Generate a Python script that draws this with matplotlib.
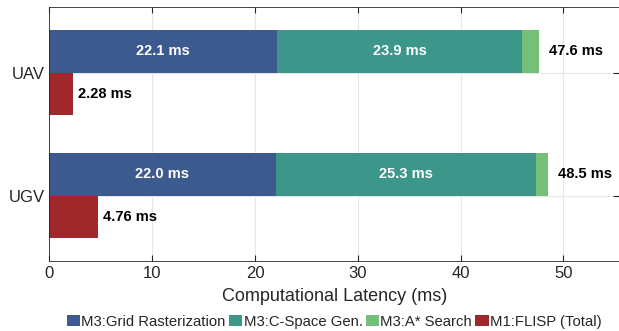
import numpy as np
import matplotlib
matplotlib.use("Agg")
from matplotlib import pyplot as plt

# data
platforms = ["UAV", "UGV"]
grid_raster = [22.1, 22.0]
cspace_gen = [23.9, 25.3]
astar = [1.6, 1.2]
m3_total = [47.6, 48.5]
flisp = [2.28, 4.76]

labels = ["M3:Grid Rasterization", "M3:C-Space Gen.", "M3:A* Search", "M1:FLISP (Total)"]
colors = ["#3d5a8f", "#3c968a", "#76bf78", "#a0282b"]

plt.rcParams['font.family'] = ['Liberation Sans', 'DejaVu Sans']

fig = plt.figure(figsize=(6.19, 3.31), dpi=100)
ax = fig.add_axes([49.3 / 619, 70 / 331, (619 - 49.3) / 619, 253.7 / 331])

y = np.arange(1, len(platforms) + 1)
h = 0.347

left = np.zeros(len(platforms))
for vals, c, lab in zip([grid_raster, cspace_gen, astar], colors[:3], labels[:3]):
    ax.barh(y - h / 2, vals, height=h, left=left, color=c, label=lab, zorder=2)
    left += np.array(vals)
ax.barh(y + h / 2, flisp, height=h, color=colors[3], label=labels[3], zorder=2)

# text labels
for i in range(len(platforms)):
    ax.text(grid_raster[i] / 2, y[i] - h / 2, "%.1f ms" % grid_raster[i], color="white",
            ha="center", va="center", fontsize=10.5, fontweight="bold", zorder=3)
    ax.text(grid_raster[i] + cspace_gen[i] / 2, y[i] - h / 2, "%.1f ms" % cspace_gen[i], color="white",
            ha="center", va="center", fontsize=10.5, fontweight="bold", zorder=3)
    ax.text(m3_total[i] + 0.95, y[i] - h / 2, "%.1f ms" % m3_total[i], color="black",
            ha="left", va="center", fontsize=10.5, fontweight="bold", zorder=3)
    ax.text(flisp[i] + 0.5, y[i] + h / 2, "%.2f ms" % flisp[i], color="black",
            ha="left", va="center", fontsize=10.5, fontweight="bold", zorder=3)

ax.set_xlim(0, 55.4)
ax.set_ylim(2.531, 0.468)
ax.set_yticks(y)
ax.set_yticklabels(platforms)
ax.set_xticks([0, 10, 20, 30, 40, 50])
ax.grid(True, color="#e6e6e6", linewidth=0.8, zorder=0)
ax.set_axisbelow(True)
ax.tick_params(direction="in", top=True, right=True, labelsize=12, colors="#262626",
               length=4, width=0.8)
for s in ["left", "bottom", "top"]:
    ax.spines[s].set_color("#262626")
    ax.spines[s].set_linewidth(0.6)
ax.spines["right"].set_visible(False)
ax.set_xlabel("Computational Latency (ms)", fontsize=13, color="#262626", labelpad=5)

ax.legend(loc="center", bbox_to_anchor=(0.5, -0.24), ncol=4, frameon=False,
          fontsize=10.7, handlelength=0.9, handleheight=0.7, handletextpad=0.1,
          columnspacing=0.2, borderaxespad=0, labelcolor="#262626")

fig.savefig("out.png", dpi=100)
